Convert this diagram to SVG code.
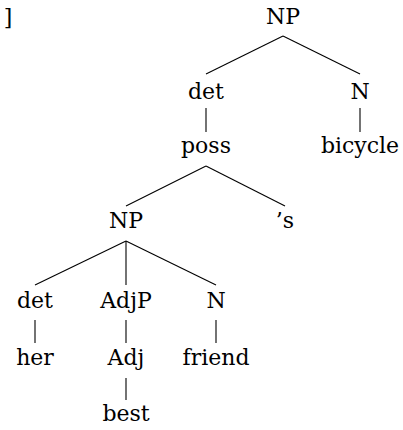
<svg xmlns="http://www.w3.org/2000/svg" width="403" height="430" viewBox="0 0 403 430">
<style>
text{font-family:'DejaVu Serif',serif;font-size:22px;fill:#000;text-anchor:middle}
.e line{stroke:#000;stroke-width:1.1}
</style>
<rect width="403" height="430" fill="#fff"/>
<text x="8" y="25">]</text>
<g class="e" id="connectors">
<line x1="283" y1="36" x2="206" y2="74"/>
<line x1="283" y1="36" x2="360" y2="74"/>
<line x1="206" y1="108" x2="206" y2="132"/>
<line x1="360" y1="108" x2="360" y2="132"/>
<line x1="206" y1="166" x2="126" y2="206"/>
<line x1="206" y1="166" x2="285" y2="206"/>
<line x1="126" y1="241" x2="35" y2="285"/>
<line x1="126" y1="241" x2="126" y2="285"/>
<line x1="126" y1="241" x2="216" y2="285"/>
<line x1="35" y1="320" x2="35" y2="343"/>
<line x1="126" y1="320" x2="126" y2="343"/>
<line x1="216" y1="320" x2="216" y2="343"/>
<line x1="126" y1="378" x2="126" y2="400"/>
</g>
<g id="np1"><text x="283" y="24">NP</text></g>
<g id="det1"><text x="206" y="99">det</text></g>
<g id="n1"><text x="360" y="99">N</text></g>
<g id="poss"><text x="206" y="153">poss</text></g>
<g id="bicycle"><text x="360" y="153">bicycle</text></g>
<g id="np2"><text x="126" y="228">NP</text></g>
<g id="s"><text x="285" y="228">’s</text></g>
<g id="det2"><text x="35" y="308">det</text></g>
<g id="adjp"><text x="126" y="308">AdjP</text></g>
<g id="n2"><text x="216" y="308">N</text></g>
<g id="her"><text x="35" y="365">her</text></g>
<g id="adj"><text x="126" y="365">Adj</text></g>
<g id="friend"><text x="216" y="365">friend</text></g>
<g id="best"><text x="126" y="421">best</text></g>
</svg>
